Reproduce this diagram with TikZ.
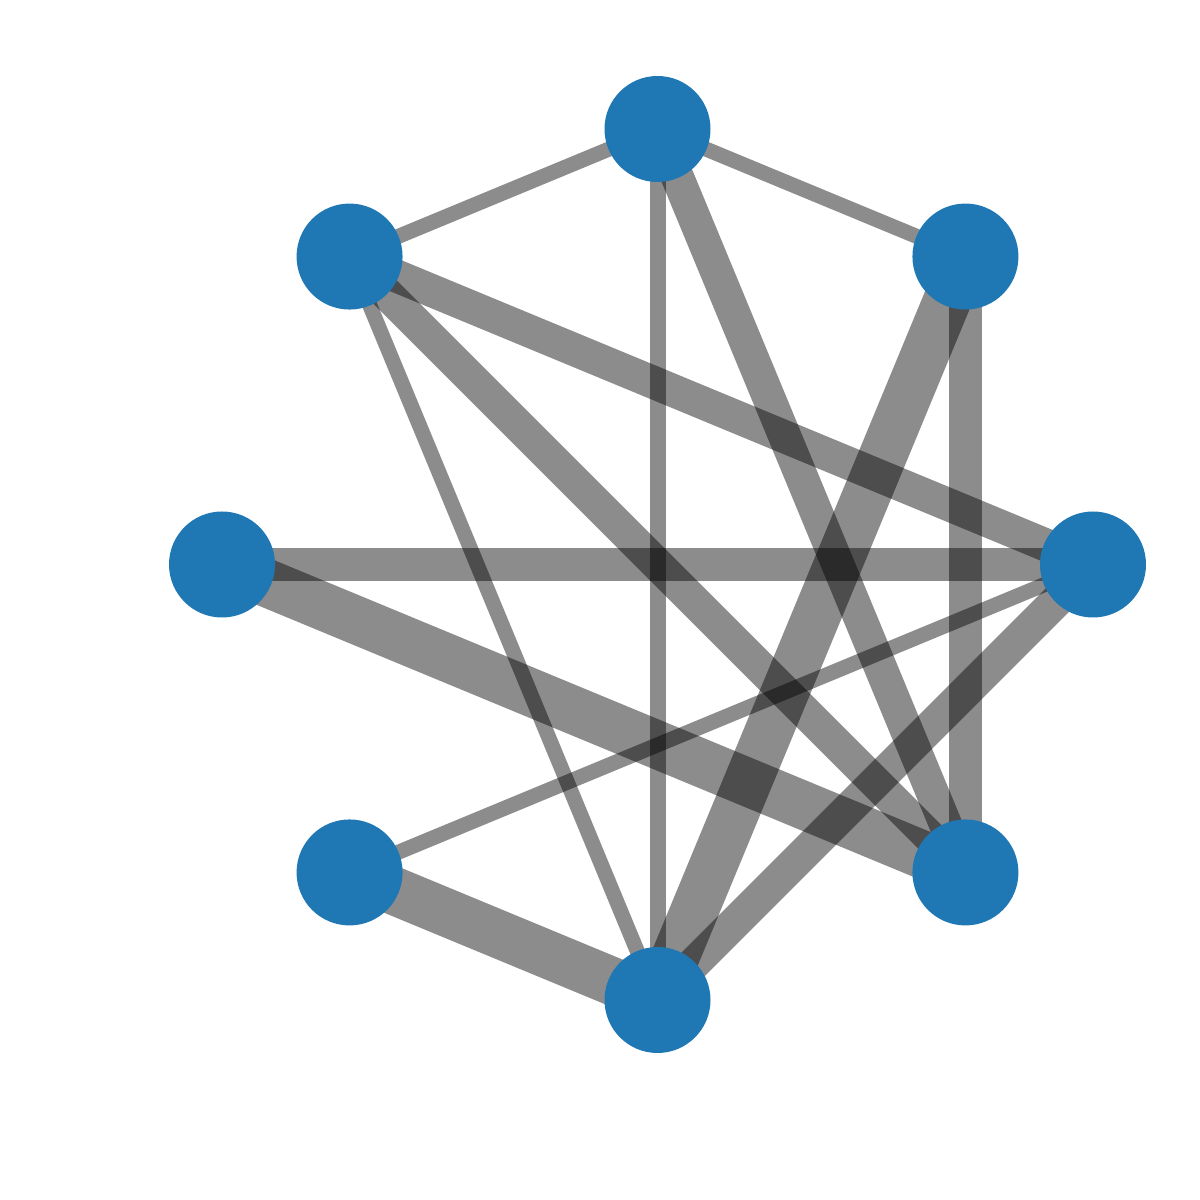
\documentclass[tikz,border=0pt]{standalone}
\usepackage{tikz}
\definecolor{nodeblue}{RGB}{31,119,180}
\usetikzlibrary{calc,backgrounds}

\begin{document}
\begin{tikzpicture}[VertexStyle/.style={circle, fill=nodeblue, minimum size=1.06cm, inner sep=0pt, outer sep=0pt}, EdgeStyle/.style={line width=#1, draw=black, draw opacity=0.45}]
	\useasboundingbox (0,0) rectangle (12,12);
	\coordinate (c) at (6.575,6.355);
	\foreach \i in {0,...,7}
		\node [VertexStyle] (v\i) at ($(c)+(\i*45:4.355)$) {};
	\begin{scope}[on background layer]
		\foreach \a/\b/\w in {v2/v3/0.15, v2/v1/0.15, v2/v6/0.16, v2/v7/0.33,
			v3/v0/0.33, v3/v7/0.33, v3/v6/0.15, v1/v6/0.48,
			v1/v7/0.33, v4/v0/0.33, v4/v7/0.48, v5/v0/0.15,
			v5/v6/0.48, v0/v6/0.33}
			\draw[EdgeStyle=\w cm] (\a.center) -- (\b.center);
	\end{scope}
\end{tikzpicture}
\end{document}
